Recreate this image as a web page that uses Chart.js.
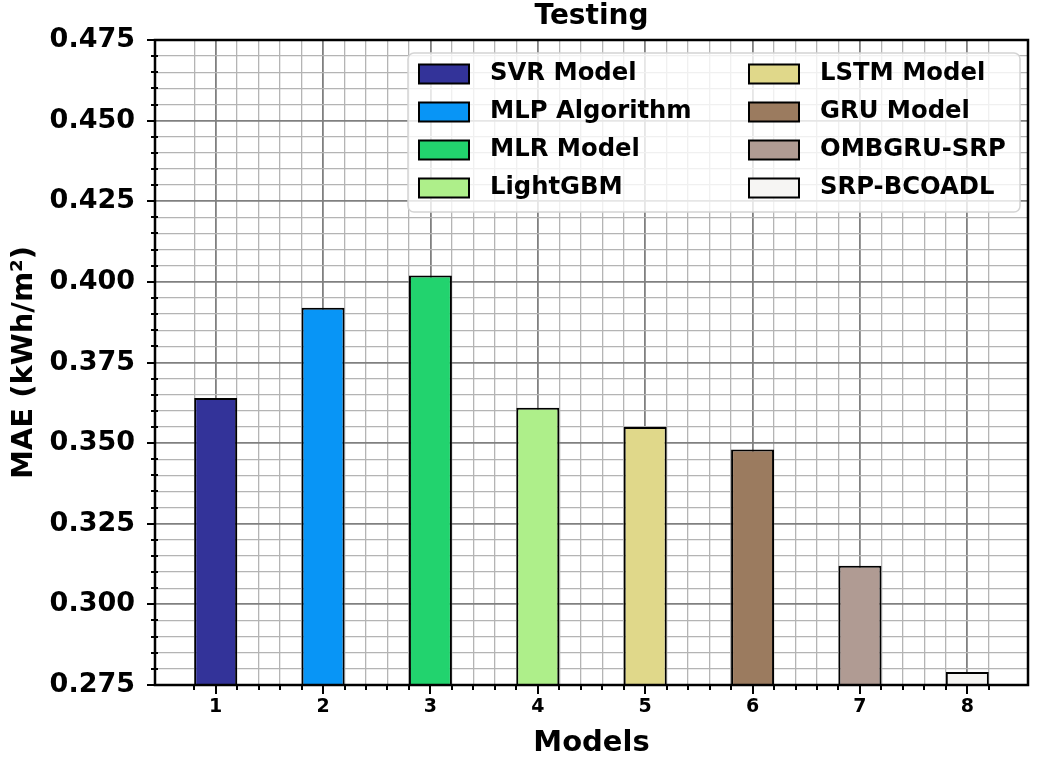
<!DOCTYPE html>
<html>
<head>
<meta charset="utf-8">
<script src="https://cdn.jsdelivr.net/npm/chart.js@4.4.1/dist/chart.umd.min.js"></script>
<style>
  html, body { margin: 0; padding: 0; background: #fff; }
  canvas { display: block; }
</style>
</head>
<body>
<canvas id="maeChart" width="1039" height="758"></canvas>
<script>
var models = ['SVR Model', 'MLP Algorithm', 'MLR Model', 'LightGBM', 'LSTM Model', 'GRU Model', 'OMBGRU-SRP', 'SRP-BCOADL'];
var modelNumbers = [1, 2, 3, 4, 5, 6, 7, 8];
var maeValues = [0.364, 0.392, 0.402, 0.361, 0.355, 0.348, 0.312, 0.279];
var barColors = ['#333399', '#0895f6', '#22d36e', '#aeef8a', '#e0d88a', '#9b7b5f', '#b09b93', '#f6f5f3'];
var yTickLabels = ['0.275', '0.300', '0.325', '0.350', '0.375', '0.400', '0.425', '0.450', '0.475'];

Chart.defaults.font.family = '"DejaVu Sans", sans-serif';
Chart.defaults.font.weight = 'bold';
Chart.defaults.color = '#000';

function isMajorY(v) {
  return yTickLabels.some(function (t) { return Math.abs(parseFloat(t) - v) < 1e-6; });
}
function isMajorX(v) { return Math.abs(v - Math.round(v)) < 1e-6; }
function onMinorX(v) { return Math.abs(v / 0.2 - Math.round(v / 0.2)) < 1e-6; }

// matplotlib style frame + major/minor tick marks
var frameAndTicks = {
  id: 'frameAndTicks',
  afterDatasetsDraw: function (chart) {
    var ctx = chart.ctx, a = chart.chartArea;
    var xs = chart.scales.x, ys = chart.scales.y;
    ctx.save();
    ctx.strokeStyle = '#000';
    ctx.lineWidth = 2;
    ctx.beginPath();
    xs.ticks.forEach(function (t) {
      if (!onMinorX(t.value)) return;
      var px = Math.round(xs.getPixelForValue(t.value));
      var len = isMajorX(t.value) ? 9 : 5;
      ctx.moveTo(px, a.bottom);
      ctx.lineTo(px, a.bottom + len);
    });
    ys.ticks.forEach(function (t) {
      var py = Math.round(ys.getPixelForValue(t.value));
      if (isMajorY(t.value)) {
        ctx.moveTo(a.left - 8, py);
        ctx.lineTo(a.left, py);
      } else {
        ctx.moveTo(a.left - 4, py);
        ctx.lineTo(a.left + 3, py);
      }
    });
    ctx.stroke();
    ctx.lineWidth = 2.5;
    ctx.strokeRect(a.left, a.top, a.right - a.left, a.bottom - a.top);
    ctx.restore();
  }
};

// two column legend box, filled column by column
var boxLegend = {
  id: 'boxLegend',
  afterDraw: function (chart) {
    var o = chart.options.plugins.boxLegend;
    var ctx = chart.ctx;
    var ds = chart.data.datasets[0];
    ctx.save();
    ctx.beginPath();
    if (ctx.roundRect) ctx.roundRect(o.left, o.top, o.width, o.height, 6);
    else ctx.rect(o.left, o.top, o.width, o.height);
    ctx.fillStyle = 'rgba(255,255,255,0.8)';
    ctx.fill();
    ctx.strokeStyle = '#d4d4d4';
    ctx.lineWidth = 1.5;
    ctx.stroke();
    ctx.font = 'bold ' + o.fontSize + 'px "DejaVu Sans"';
    ctx.textBaseline = 'middle';
    ctx.textAlign = 'left';
    chart.data.labels.forEach(function (label, i) {
      var col = Math.floor(i / o.rows), row = i % o.rows;
      var x = o.left + o.padX + col * o.colWidth;
      var y = o.top + o.firstRow + row * o.rowGap;
      ctx.fillStyle = ds.backgroundColor[i];
      ctx.fillRect(x, y - 9.5, 50, 19);
      ctx.strokeStyle = '#000';
      ctx.lineWidth = 2;
      ctx.strokeRect(x, y - 9.5, 50, 19);
      ctx.fillStyle = '#000';
      ctx.fillText(label, x + 71, y);
    });
    ctx.restore();
  }
};

new Chart(document.getElementById('maeChart'), {
  type: 'bar',
  data: {
    labels: models,
    datasets: [{
      data: modelNumbers.map(function (n, i) { return { x: n, y: maeValues[i] }; }),
      backgroundColor: barColors,
      borderColor: '#000',
      borderWidth: 2,
      borderSkipped: false,
      // the ruler uses the 0.2 tick step, so 2.0 gives bars 0.4 units wide
      barPercentage: 2.0,
      categoryPercentage: 1.0
    }]
  },
  options: {
    responsive: false,
    animation: false,
    layout: { padding: { left: 0, right: 6, top: 0, bottom: 0 } },
    plugins: {
      legend: { display: false },
      tooltip: { enabled: false },
      title: {
        display: true,
        fullSize: false,
        text: 'Testing',
        color: '#000',
        font: { size: 28, weight: 'bold' },
        padding: { top: 0, bottom: 6.4 }
      },
      boxLegend: {
        left: 408, top: 53, width: 612, height: 159,
        rows: 4, padX: 11, colWidth: 330, firstRow: 21, rowGap: 38, fontSize: 24.3
      }
    },
    scales: {
      x: {
        type: 'linear',
        min: 0.435,
        max: 8.565,
        offset: false,
        ticks: {
          stepSize: 0.2,
          autoSkip: false,
          maxRotation: 0,
          padding: 11,
          font: { size: 19 },
          callback: function (v) {
            return isMajorX(v) ? String(modelNumbers[Math.round(v) - 1]) : '';
          }
        },
        grid: {
          offset: false,
          drawTicks: false,
          color: function (c) { return isMajorX(c.tick.value) ? '#808080' : '#b4b4b4'; },
          lineWidth: function (c) { return isMajorX(c.tick.value) ? 1.8 : 1.3; }
        },
        border: { color: '#000', width: 2 },
        title: { display: true, text: 'Models', font: { size: 29, lineHeight: 1 }, padding: 0 },
        afterFit: function (s) { s.height = 73; }
      },
      y: {
        min: 0.275,
        max: 0.475,
        ticks: {
          stepSize: 0.005,
          autoSkip: false,
          padding: 20,
          font: { size: 27 },
          callback: function (v) { return isMajorY(v) ? v.toFixed(3) : ''; }
        },
        grid: {
          drawTicks: false,
          color: function (c) { return isMajorY(c.tick.value) ? '#808080' : '#b4b4b4'; },
          lineWidth: function (c) { return isMajorY(c.tick.value) ? 1.8 : 1.3; }
        },
        border: { color: '#000', width: 2 },
        title: { display: true, text: 'MAE (kWh/m²)', font: { size: 29, lineHeight: 1 }, padding: { top: 10, bottom: 0 } },
        afterFit: function (s) { s.width = 155; }
      }
    }
  },
  plugins: [frameAndTicks, boxLegend]
});
</script>
</body>
</html>
